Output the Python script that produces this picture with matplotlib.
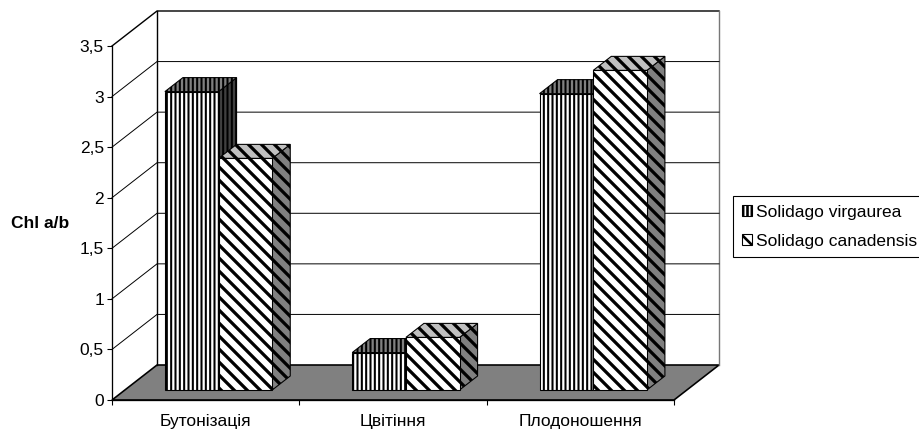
import matplotlib
matplotlib.use('Agg')
import matplotlib.pyplot as plt
from matplotlib.patches import Patch, Polygon

plt.rcParams['font.family'] = ['Liberation Sans', 'DejaVu Sans']
plt.rcParams['hatch.color'] = 'black'

categories = ['Бутонізація', 'Цвітіння', 'Плодоношення']
virgaurea = [2.95, 0.37, 2.93]
canadensis = [2.29, 0.52, 3.16]
series_names = ['Solidago virgaurea', 'Solidago canadensis']
y_ticks = [0, 0.5, 1, 1.5, 2, 2.5, 3, 3.5]
y_tick_labels = ['0', '0,5', '1', '1,5', '2', '2,5', '3', '3,5']

DPI = 78
W, H = 919, 432

# depth of the fake 3d box, in data units
DX = 45 / 187.33
DY = 35 / 101.14
# bars stand part way into the floor
bar_frac = 0.286
bar_depth = 0.40
bar_w = 0.2865
bar_start = 0.2137

fig = plt.figure(figsize=(W / DPI, H / DPI), dpi=DPI)
ax = fig.add_axes([112 / W, 32 / H, 562 / W, 354 / H])
ax.set_xlim(0, 3)
ax.set_ylim(0, 3.5)
ax.patch.set_visible(False)


def poly(pts, **kw):
    ax.add_patch(Polygon(pts, closed=True, clip_on=False, **kw))


# walls and floor
poly([(0, 0), (DX, DY), (3 + DX, DY), (3, 0)], fc='#808080', ec='black', lw=1.5, zorder=1)
ax.plot([0, DX, 3 + DX], [3.5, 3.5 + DY, 3.5 + DY], color='black', lw=1.3, clip_on=False, zorder=1)
ax.plot([DX, DX], [DY, 3.5 + DY], color='black', lw=1.3, clip_on=False, zorder=1)
ax.plot([3 + DX, 3 + DX], [DY, 3.5 + DY], color='#777777', lw=1.3, clip_on=False, zorder=1)
for v in y_ticks[1:-1]:
    ax.plot([0, DX, 3 + DX], [v, v + DY, v + DY], color='black', lw=0.9, clip_on=False, zorder=1)

off_x = DX * bar_frac
off_y = DY * bar_frac
dep_x = DX * bar_depth
dep_y = DY * bar_depth


def draw_bar(x0, val, hatch, hlw, top_c, side_c, z):
    x1 = x0 + bar_w
    y0 = off_y
    y1 = off_y + val
    plt.rcParams['hatch.linewidth'] = hlw
    poly([(x1, y0), (x1 + dep_x, y0 + dep_y), (x1 + dep_x, y1 + dep_y), (x1, y1)],
         fc=side_c, ec='black', lw=1, hatch=hatch, zorder=z)
    poly([(x0, y1), (x0 + dep_x, y1 + dep_y), (x1 + dep_x, y1 + dep_y), (x1, y1)],
         fc=top_c, ec='black', lw=1, hatch=hatch, zorder=z)
    ax.bar(x0, val, bar_w, bottom=y0, align='edge', color='white', edgecolor='black', lw=1,
           hatch=hatch, clip_on=False, zorder=z)


for i in range(len(categories)):
    x = i + off_x + bar_start
    draw_bar(x, virgaurea[i], '|||', 1.9, '#808080', '#404040', 3)
    draw_bar(x + bar_w, canadensis[i], '\\\\', 3.0, '#c0c0c0', '#808080', 4)

# axes
for s in ['top', 'right']:
    ax.spines[s].set_visible(False)
ax.spines['left'].set_linewidth(1.2)
ax.spines['bottom'].set_linewidth(1.2)
ax.spines['left'].set_zorder(5)
ax.spines['bottom'].set_zorder(5)
ax.set_yticks(y_ticks)
ax.set_yticklabels(y_tick_labels, fontsize=16)
ax.set_xticks([0, 1, 2, 3])
ax.set_xticklabels([])
ax.set_xticks([0.5, 1.5, 2.5], minor=True)
ax.set_xticklabels(categories, minor=True, fontsize=16)
ax.tick_params(axis='both', which='major', length=4.5, width=1)
ax.tick_params(axis='x', which='minor', length=0, pad=13)
ax.tick_params(axis='y', pad=3)
ax.set_ylabel('Chl a/b', rotation=0, fontsize=16, fontweight='bold', va='center', ha='center')
ax.yaxis.set_label_coords((40 - 112) / 562, (400 - 223) / 354)

plt.rcParams['hatch.linewidth'] = 2.4
handles = [Patch(fc='white', ec='black', hatch='|||'),
           Patch(fc='white', ec='black', hatch='\\\\')]
leg = fig.legend(handles, series_names, loc='upper left', bbox_to_anchor=(733 / W, 1 - 196 / H),
                 bbox_transform=fig.transFigure, borderaxespad=0, fancybox=False, framealpha=1,
                 edgecolor='black', fontsize=16, handlelength=0.6, handleheight=0.6,
                 handletextpad=0.25, labelspacing=0.8, borderpad=0.5)
leg.get_frame().set_linewidth(1)

fig.savefig('out.png', dpi=DPI)
